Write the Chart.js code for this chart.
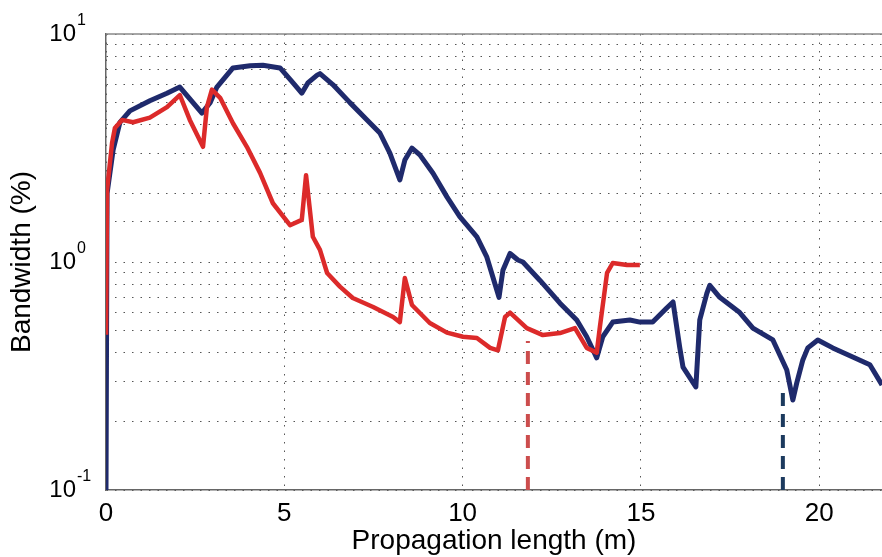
<!DOCTYPE html>
<html lang="en">
<head>
  <meta charset="UTF-8">
  <title>Bandwidth vs propagation length</title>
  <style>
  html, body {
    margin: 0;
    padding: 0;
    background: #fff;
  }
  #wrap {
    width: 882px;
    height: 557px;
  }
  </style>
  <script src="https://cdn.jsdelivr.net/npm/chart.js"></script>
</head>
<body>
  <div id="wrap"><canvas id="bwChart"></canvas></div>

  <script>
    // blue (navy) curve
    var blueX = [0, 0.03, 0.2, 0.39, 0.67, 1.23, 1.71, 2.07, 2.69, 2.92, 3.11, 3.56, 4.04, 4.4, 4.88,
      5.21, 5.49, 5.66, 5.92, 6.0, 6.36, 6.84, 7.32, 7.68, 7.96, 8.24, 8.38, 8.58, 8.8, 9.17,
      9.56, 9.92, 10.4, 10.68, 11.02, 11.13, 11.33, 11.55, 11.69, 12.17, 12.73, 13.2, 13.48, 13.76,
      13.93, 14.21, 14.69, 14.97, 15.33, 15.73, 15.9, 16.09, 16.18, 16.54, 16.65, 16.85, 16.93,
      17.21, 17.77, 18.14, 18.7, 19.09, 19.26, 19.37, 19.54, 19.68, 19.96, 20.38, 20.94, 21.42, 21.76];
    var blueY = [0.1, 2.0, 3.1, 4.1, 4.6, 5.1, 5.5, 5.85, 4.5, 5.0, 5.85, 7.1, 7.25, 7.3, 7.1,
      6.2, 5.5, 6.1, 6.6, 6.7, 6.0, 5.0, 4.2, 3.68, 3.0, 2.29, 2.8, 3.16, 2.95, 2.45,
      1.93, 1.58, 1.29, 1.05, 0.70, 0.92, 1.09, 1.02, 1.0, 0.83, 0.66, 0.557, 0.47, 0.38,
      0.47, 0.545, 0.557, 0.545, 0.545, 0.63, 0.668, 0.42, 0.346, 0.283, 0.557, 0.73, 0.79,
      0.70, 0.60, 0.513, 0.455, 0.336, 0.248, 0.295, 0.372, 0.42, 0.455, 0.42, 0.383, 0.354, 0.289];

    // red curve
    var redX = [0, 0.03, 0.17, 0.25, 0.45, 0.76, 1.23, 1.71, 2.07, 2.35, 2.72, 2.83, 2.97, 3.2,
      3.56, 3.95, 4.32, 4.68, 5.16, 5.49, 5.61, 5.8, 6.0, 6.2, 6.56, 6.92, 7.49, 8.05, 8.24,
      8.38, 8.58, 9.08, 9.56, 10.01, 10.4, 10.77, 10.99, 11.19, 11.33, 11.8, 12.25, 12.73,
      13.15, 13.48, 13.76, 13.85, 14.05, 14.21, 14.61, 14.97];
    var redY = [0.48, 2.07, 3.33, 3.87, 4.2, 4.1, 4.3, 4.78, 5.4, 4.2, 3.2, 4.78, 5.7, 5.25,
      4.06, 3.2, 2.46, 1.81, 1.45, 1.53, 2.4, 1.29, 1.13, 0.895, 0.78, 0.695, 0.635, 0.574, 0.545,
      0.85, 0.648, 0.54, 0.49, 0.47, 0.464, 0.42, 0.41, 0.574, 0.60, 0.513, 0.478, 0.488,
      0.513, 0.42, 0.40, 0.52, 0.895, 0.99, 0.97, 0.97];

    // dashed markers
    var redMarkX = [11.83, 11.83];
    var redMarkY = [0.1, 0.45];
    var blueMarkX = [18.98, 18.98];
    var blueMarkY = [0.1, 0.28];

    // tick labels
    var xTicks = [0, 5, 10, 15, 20];
    var yDecades = [0.1, 1, 10];
    var yExps = ['-1', '0', '1'];

    function pts(xs, ys) {
      return xs.map(function(x, i) { return { x: x, y: ys[i] }; });
    }

    var NAVY = '#1f2a6c';
    var RED = '#dc2a2a';
    var FONT = 'Liberation Sans';

    // top frame line + exponents of the y tick labels
    var extras = {
      id: 'extras',
      afterDraw: function(chart) {
        var a = chart.chartArea, ctx = chart.ctx;
        ctx.save();
        ctx.strokeStyle = '#888';
        ctx.lineWidth = 1.5;
        ctx.beginPath();
        ctx.moveTo(a.left, a.top);
        ctx.lineTo(a.right, a.top);
        ctx.stroke();

        var ys = chart.scales.y;
        ctx.fillStyle = '#000';
        ctx.font = '16px "' + FONT + '"';
        ctx.textAlign = 'left';
        ctx.textBaseline = 'alphabetic';
        yDecades.forEach(function(v, i) {
          ctx.fillText(yExps[i], ys.left + 77, ys.getPixelForValue(v) - 9);
        });
        ctx.restore();
      }
    };

    var bwChart = new Chart('bwChart', {
      type: 'line',
      data: {
        datasets: [{
          data: pts(redX, redY),
          borderColor: RED,
          borderWidth: 4.5
        }, {
          data: pts(blueX, blueY),
          borderColor: NAVY,
          borderWidth: 5
        }, {
          data: pts(redMarkX, redMarkY),
          borderColor: '#cc4d4d',
          borderWidth: 4,
          borderDash: [13, 8],
          borderCapStyle: 'butt'
        }, {
          data: pts(blueMarkX, blueMarkY),
          borderColor: '#1c3a5e',
          borderWidth: 4,
          borderDash: [13, 8],
          borderCapStyle: 'butt'
        }]
      },
      options: {
        responsive: true,
        maintainAspectRatio: false,
        animation: false,
        layout: { padding: { top: 34, right: 0, left: 0, bottom: 0 } },
        elements: {
          point: { radius: 0 },
          line: { tension: 0, borderJoinStyle: 'round', fill: false }
        },
        plugins: {
          legend: { display: false },
          tooltip: { enabled: false }
        },
        scales: {
          x: {
            type: 'linear',
            min: 0,
            max: 21.76,
            afterBuildTicks: function(scale) {
              scale.ticks = xTicks.map(function(v) { return { value: v }; });
            },
            afterFit: function(scale) {
              scale.height = 67;
              scale.paddingLeft = 0;
              scale.paddingRight = 0;
            },
            grid: { color: '#555', lineWidth: 1, drawTicks: false },
            border: { color: '#666', width: 1.5, dash: [1.5, 7] },
            ticks: {
              color: '#000',
              padding: 8,
              font: { family: FONT, size: 26 },
              maxRotation: 0
            },
            title: {
              display: true,
              text: 'Propagation length (m)',
              color: '#000',
              font: { family: FONT, size: 28 },
              padding: { top: 0, bottom: -1 }
            }
          },
          y: {
            type: 'logarithmic',
            min: 0.1,
            max: 10,
            afterFit: function(scale) {
              scale.width = 106;
              scale.paddingTop = 0;
              scale.paddingBottom = 0;
            },
            grid: { color: '#555', lineWidth: 1, drawTicks: false },
            border: { color: '#666', width: 1.5, dash: [1.5, 7] },
            ticks: {
              autoSkip: false,
              color: '#000',
              padding: 30,
              font: { family: FONT, size: 24 },
              callback: function(value) {
                var e = Math.log10(value);
                return Math.abs(e - Math.round(e)) < 1e-9 ? '10' : '';
              }
            },
            title: {
              display: true,
              text: 'Bandwidth (%)',
              color: '#000',
              font: { family: FONT, size: 28 },
              padding: { top: 5, bottom: 0 }
            }
          }
        }
      },
      plugins: [extras]
    });
  </script>
</body>
</html>
